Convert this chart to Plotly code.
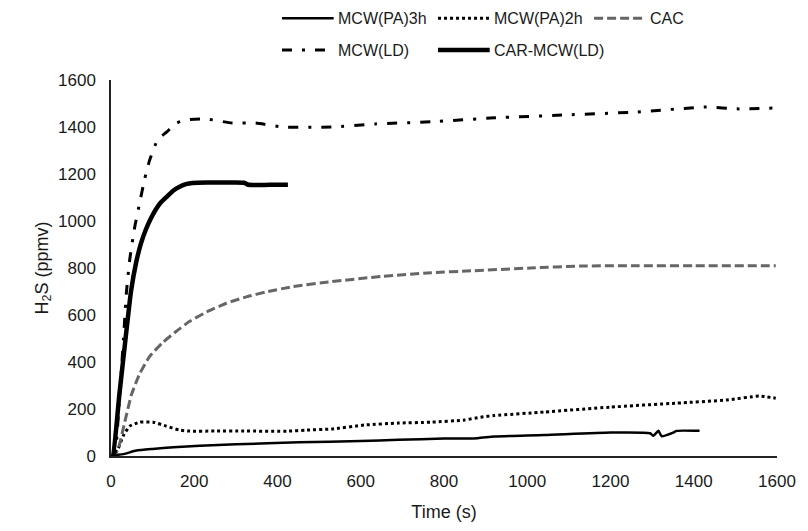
import plotly.graph_objects as go

# ---- data ----
t_pa3h = [0, 6, 30, 61, 100, 150, 213, 300, 451, 600, 690, 800, 881, 921, 1041, 1200, 1295, 1303, 1315, 1323, 1351, 1359, 1414]
v_pa3h = [0, 4, 8, 23, 30, 37, 44, 50, 58, 64, 69, 74, 76, 83, 89, 100, 97, 86, 107, 84, 100, 107, 107]

t_pa2h = [0, 5, 17, 29, 45, 69, 101, 133, 165, 189, 250, 320, 427, 468, 530, 611, 690, 769, 849, 888, 921, 1041, 1199, 1359, 1478, 1557, 1597]
v_pa2h = [0, 0, 30, 85, 127, 144, 144, 127, 110, 106, 106, 106, 106, 110, 115, 132, 140, 144, 153, 165, 172, 187, 208, 225, 238, 255, 246]

t_cac = [0, 5, 17, 33, 49, 69, 93, 125, 157, 189, 229, 277, 325, 372, 435, 530, 650, 769, 865, 1008, 1127, 1250, 1400, 1597]
v_cac = [0, 0, 30, 144, 260, 350, 424, 484, 531, 573, 612, 650, 677, 698, 720, 742, 764, 780, 788, 800, 808, 810, 810, 810]

t_ld = [0, 8, 20, 30, 37, 45, 57, 69, 81, 93, 112, 134, 158, 181, 229, 291, 348, 411, 530, 635, 769, 921, 1089, 1263, 1430, 1509, 1597]
v_ld = [0, 0, 240, 500, 695, 836, 975, 1078, 1180, 1260, 1345, 1379, 1417, 1430, 1434, 1417, 1417, 1400, 1400, 1413, 1422, 1439, 1451, 1464, 1485, 1477, 1481]

t_car = [0, 4, 20, 35, 48, 60, 72, 84, 96, 108, 120, 135, 150, 165, 180, 196, 230, 280, 320, 330, 380, 425]
v_car = [0, 0, 260, 500, 700, 820, 905, 965, 1012, 1050, 1080, 1105, 1130, 1146, 1157, 1162, 1164, 1164, 1163, 1154, 1154, 1154]

x_ticks = [0, 200, 400, 600, 800, 1000, 1200, 1400, 1600]
y_ticks = [0, 200, 400, 600, 800, 1000, 1200, 1400, 1600]

FONT = "Liberation Sans, Arial, sans-serif"
FS = 17
FS_TITLE = 18
FS_LEG = 16
TXT = "#1a1a1a"

series = [
    ("MCW(PA)3h", t_pa3h, v_pa3h, dict(color="black", width=2.5, dash="solid")),
    ("MCW(PA)2h", t_pa2h, v_pa2h, dict(color="black", width=3, dash="3px,3px")),
    ("CAC", t_cac, v_cac, dict(color="#666666", width=3, dash="9px,4px")),
    ("MCW(LD)", t_ld, v_ld, dict(color="black", width=3, dash="10px,10px,3px,10px")),
    ("CAR-MCW(LD)", t_car, v_car, dict(color="black", width=4.5, dash="solid")),
]

fig = go.Figure()
for name, t, v, ln in series:
    fig.add_trace(go.Scatter(x=t, y=v, mode="lines", name=name, line=ln,
                             line_shape="spline", line_smoothing=0.5, showlegend=False))

# manual legend (two rows, three columns)
L, R, T, B = 111, 27, 80, 74
W, H = 808, 531
pw, ph = W - L - R, H - T - B
def px(x):
    return (x - L) / pw
def py(y):
    return (H - B - y) / ph

legend_pos = [(283, 18), (440, 18), (597, 18), (283, 50), (440, 50)]
for (name, t, v, ln), (lx, ly) in zip(series, legend_pos):
    fig.add_shape(type="line", xref="paper", yref="paper",
                  x0=px(lx), x1=px(lx + 52), y0=py(ly), y1=py(ly), line=ln)
    fig.add_annotation(xref="paper", yref="paper", x=px(lx + 54), y=py(ly),
                       text=name, showarrow=False, xanchor="left", yanchor="middle",
                       font=dict(family=FONT, size=FS_LEG, color=TXT))

fig.update_layout(
    width=W, height=H,
    margin=dict(l=L, r=R, t=T, b=B),
    paper_bgcolor="white", plot_bgcolor="white",
    font=dict(family=FONT, size=FS, color=TXT),
    showlegend=False,
)
fig.update_xaxes(range=[0, 1600], tickvals=x_ticks, showgrid=False, zeroline=False,
                 showline=True, linecolor="#222", linewidth=1.5, ticks="",
                 ticklabelstandoff=9,
                 title=dict(text="Time (s)", standoff=15, font=dict(size=FS_TITLE)))
fig.update_yaxes(range=[0, 1600], tickvals=y_ticks, showgrid=False, zeroline=False,
                 showline=True, linecolor="#222", linewidth=1.5, ticks="",
                 ticklabelstandoff=10,
                 title=dict(text="H<sub>2</sub>S (ppmv)", standoff=5, font=dict(size=FS_TITLE)))

fig.write_html("out.html")
